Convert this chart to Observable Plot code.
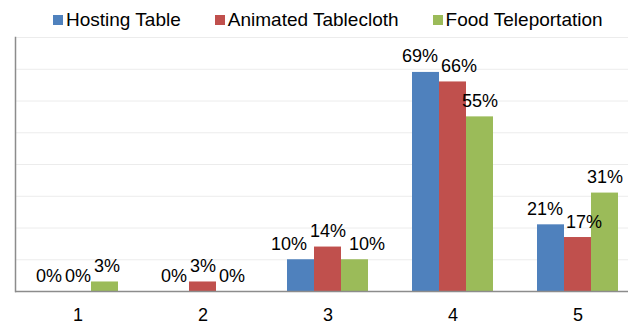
<!DOCTYPE html>
<html>
<head>
<meta charset="utf-8">
<script src="https://cdn.jsdelivr.net/npm/d3@7"></script>
<script src="https://cdn.jsdelivr.net/npm/@observablehq/plot@0.6"></script>
<style>
  html, body { margin: 0; padding: 0; background: #fff; overflow: hidden; }
  #wrap { width: 628px; height: 326px; overflow: hidden; position: relative; }
  #legend { height: 30px; box-sizing: border-box; padding-top: 9px; padding-left: 53px; display: flex; align-items: center;
            font-family: "Liberation Sans", Arial, sans-serif; font-size: 19px; color: #000; white-space: nowrap; }
  #legend .item { display: flex; align-items: center; margin-right: 34px; }
  #legend .sw { width: 10px; height: 10px; margin-right: 3px; }
  #chart svg { overflow: hidden; display: block; }
</style>
</head>
<body>
<div id="wrap">
  <div id="legend"></div>
  <div id="chart"></div>
</div>
<script>
const categories = ["1", "2", "3", "4", "5"];
const series = ["Hosting Table", "Animated Tablecloth", "Food Teleportation"];
const hostingTable = [0.00, 0.00, 0.10, 0.69, 0.21];
const animatedTablecloth = [0.00, 0.03, 0.14, 0.66, 0.17];
const foodTeleportation = [0.03, 0.00, 0.10, 0.55, 0.31];
const colors = ["#4F81BD", "#C0504D", "#9BBB59"];
const yGrid = [0.1, 0.2, 0.3, 0.4, 0.5, 0.6, 0.7, 0.8];

const W = 628, H = 296, MT = 7, MB = 35, ML = 13, MR = -13;
const labelSize = 18;
const fmt = d3.format(".0%");

const valuesBySeries = [hostingTable, animatedTablecloth, foodTeleportation];
const data = [];
categories.forEach((c, i) => {
  series.forEach((s, j) => data.push({category: c, series: s, value: valuesBySeries[j][i], dx: 0}));
});

// Simple label collision avoidance (like Excel's label nudging): push overlapping neighbours apart
const pxPerUnit = (H - MT - MB) / 0.8;
const step = (W - ML - MR) / categories.length / (series.length + 1.5);
const textWidth = s => [...s].reduce((a, ch) => a + (ch === "%" ? 0.889 : 0.556), 0) * labelSize;
categories.forEach(c => {
  const row = data.filter(d => d.category === c);
  for (let iter = 0; iter < 6; iter++) {
    for (let k = 0; k < row.length - 1; k++) {
      const a = row[k], b = row[k + 1];
      if (Math.abs(a.value - b.value) * pxPerUnit >= labelSize - 2) continue;
      const need = (textWidth(fmt(a.value)) + textWidth(fmt(b.value))) / 2 + 4;
      const have = step + b.dx - a.dx;
      if (have < need) { const d = (need - have) / 2; a.dx -= d; b.dx += d; }
    }
  }
});

// Legend (HTML)
const legend = document.getElementById("legend");
series.forEach((s, j) => {
  const item = document.createElement("div");
  item.className = "item";
  const sw = document.createElement("span");
  sw.className = "sw";
  sw.style.background = colors[j];
  const lab = document.createElement("span");
  lab.textContent = s;
  item.appendChild(sw);
  item.appendChild(lab);
  legend.appendChild(item);
});

const chart = Plot.plot({
  width: W,
  height: H,
  marginTop: MT,
  marginBottom: MB,
  marginLeft: ML,
  marginRight: MR,
  style: {fontFamily: "'Liberation Sans', Arial, sans-serif", fontSize: "18px", color: "#000", background: "#fff"},
  fx: {domain: categories, padding: 0, label: null, tickSize: 0, tickPadding: 17, fontSize: 19},
  x: {domain: series, paddingInner: 0, paddingOuter: 0.75, axis: null},
  y: {domain: [0, 0.8], axis: null},
  color: {domain: series, range: colors},
  marks: [
    Plot.ruleY(yGrid, {stroke: "#ececec", strokeWidth: 1}),
    Plot.barY(data, {fx: "category", x: "series", y: "value", fill: "series"}),
    ...data.map(d => Plot.text([d], {fx: "category", x: "series", y: "value", text: e => fmt(e.value),
      lineAnchor: "bottom", dy: -10, dx: d.dx, fontSize: labelSize, fill: "#000"})),
    Plot.ruleY([0], {stroke: "#8c8c8c", strokeWidth: 1.5}),
    Plot.frame({anchor: "left", facetAnchor: "left", stroke: "#8c8c8c", strokeWidth: 1.5})
  ]
});
document.getElementById("chart").appendChild(chart);
</script>
</body>
</html>
